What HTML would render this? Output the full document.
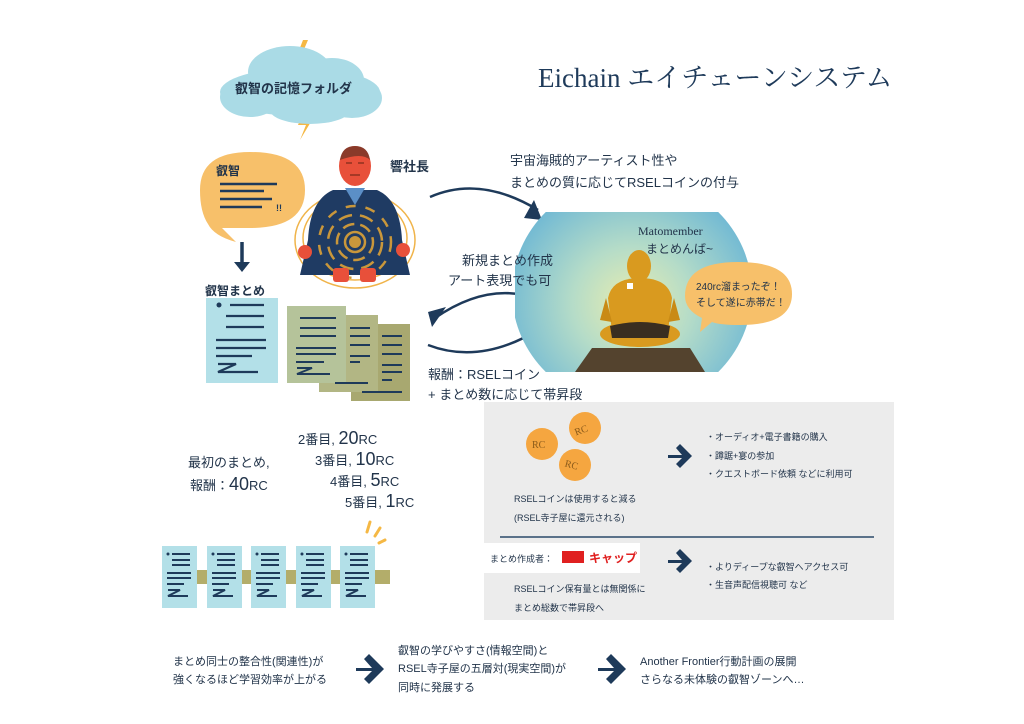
<!DOCTYPE html>
<html><head><meta charset="utf-8"><style>
html,body{margin:0;padding:0;background:#fff;}
#c{position:relative;width:1024px;height:724px;overflow:hidden;font-family:"Liberation Sans","Noto Sans CJK JP",sans-serif;color:#22344a;}
.t{position:absolute;white-space:nowrap;font-weight:bold;}
svg{position:absolute;left:0;top:0;}
</style></head><body><div id="c">
<svg width="1024" height="724" viewBox="0 0 1024 724">
<defs>
<radialGradient id="g" cx="0.5" cy="0.55" r="0.55"><stop offset="0" stop-color="#e8edb0"/><stop offset="0.45" stop-color="#b5dcc8"/><stop offset="1" stop-color="#6fb8d4"/></radialGradient>
<clipPath id="cl"><rect x="515" y="212" width="240" height="160"/></clipPath>
<g id="doc"><rect width="35" height="62" fill="#b3e0e8"/><g stroke="#1e3a5a" stroke-width="2"><line x1="10" y1="8" x2="28" y2="8"/><line x1="10" y1="14" x2="28" y2="14"/><line x1="10" y1="19" x2="28" y2="19"/><line x1="5" y1="27" x2="29" y2="27"/><line x1="5" y1="32" x2="29" y2="32"/><line x1="5" y1="38" x2="22" y2="38"/><path d="M6 44 H18 L6 50 H26" fill="none"/></g><circle cx="6" cy="8" r="1.5" fill="#1e3a5a"/></g>
</defs>
<path d="M303 40 L296 58 L304 58 L297 72 L310 54 L302 54 L308 40Z" fill="#f5b844"/>
<path d="M305 108 L298 125 L306 125 L300 140 L312 120 L304 120 L310 108Z" fill="#f5b844"/>
<g fill="#aadbe6"><ellipse cx="300" cy="92" rx="80" ry="24"/><ellipse cx="290" cy="72" rx="42" ry="26"/><ellipse cx="332" cy="80" rx="32" ry="22"/><ellipse cx="352" cy="98" rx="30" ry="20"/><ellipse cx="250" cy="97" rx="30" ry="20"/><ellipse cx="310" cy="110" rx="40" ry="14"/></g>
<path d="M200 190 Q200 152 250 152 Q305 152 305 190 Q305 228 250 228 L222 228 Q230 236 236 242 Q214 236 208 224 Q200 212 200 190Z" fill="#f7c06a"/>
<g stroke="#1e3a5a" stroke-width="2.5"><line x1="220" y1="184" x2="277" y2="184"/><line x1="220" y1="191" x2="264" y2="191"/><line x1="220" y1="199" x2="272" y2="199"/><line x1="220" y1="207" x2="262" y2="207"/></g>
<text x="276" y="211" font-size="9" font-weight="bold" fill="#1e3a5a" font-family="Liberation Sans">!!</text>
<path d="M242 242 V268" stroke="#1e3a5a" stroke-width="3.5"/><path d="M234 262 L242 272 L250 262Z" fill="#1e3a5a"/>
<rect x="206" y="298" width="72" height="85" fill="#b3e0e8"/>
<g stroke="#1e3a5a" stroke-width="2.2"><line x1="230" y1="305" x2="264" y2="305"/><line x1="226" y1="316" x2="264" y2="316"/><line x1="226" y1="327" x2="264" y2="327"/><line x1="216" y1="340" x2="266" y2="340"/><line x1="216" y1="348" x2="266" y2="348"/><line x1="216" y1="356" x2="252" y2="356"/><path d="M218 364 H236 L218 372 H258" fill="none"/></g><circle cx="219" cy="305" r="2.5" fill="#1e3a5a"/>
<rect x="351" y="324" width="59" height="77" fill="#a8a870"/>
<rect x="319" y="315" width="59" height="77" fill="#b2b684"/>
<rect x="287" y="306" width="59" height="77" fill="#b5c39a"/>
<g stroke="#1e3a5a" stroke-width="2"><line x1="300" y1="318" x2="336" y2="318"/><line x1="300" y1="328" x2="336" y2="328"/><line x1="300" y1="336" x2="336" y2="336"/><line x1="296" y1="348" x2="336" y2="348"/><line x1="296" y1="354" x2="336" y2="354"/><line x1="296" y1="362" x2="324" y2="362"/><path d="M297 368 H312 L297 374 H330" fill="none"/>
<line x1="350" y1="328" x2="370" y2="328"/><line x1="350" y1="336" x2="370" y2="336"/><line x1="350" y1="345" x2="370" y2="345"/><line x1="350" y1="356" x2="370" y2="356"/><line x1="350" y1="362" x2="360" y2="362"/><line x1="335" y1="383" x2="368" y2="383"/>
<line x1="382" y1="336" x2="402" y2="336"/><line x1="382" y1="345" x2="402" y2="345"/><line x1="382" y1="354" x2="402" y2="354"/><line x1="382" y1="365" x2="402" y2="365"/><line x1="382" y1="372" x2="402" y2="372"/><line x1="382" y1="380" x2="392" y2="380"/><line x1="362" y1="392" x2="402" y2="392"/></g>
<g fill="none" stroke="#f0b44a" stroke-width="1.5"><ellipse cx="355" cy="240" rx="60" ry="48"/><ellipse cx="355" cy="238" rx="52" ry="42"/></g>
<path d="M333 190 L377 190 Q400 200 402 240 L410 275 L300 275 L308 240 Q310 200 333 190Z" fill="#1f3b63"/>
<path d="M345 188 L365 188 L355 205Z" fill="#5b8fc7"/>
<g fill="none" stroke="#c9973b" stroke-width="2.5"><circle cx="355" cy="242" r="10"/><circle cx="355" cy="242" r="18" stroke-dasharray="12 6"/><circle cx="355" cy="242" r="27" stroke-dasharray="14 8"/><circle cx="355" cy="242" r="36" stroke-dasharray="10 10"/></g>
<circle cx="355" cy="242" r="6" fill="#c9973b"/>
<ellipse cx="355" cy="166" rx="16" ry="20" fill="#e8503a"/><path d="M340 160 Q342 146 355 146 Q368 146 370 160 Q362 152 340 160Z" fill="#8a3a2a"/>
<g stroke="#7a2a1a" stroke-width="1.2"><line x1="346" y1="163" x2="352" y2="163"/><line x1="358" y1="163" x2="364" y2="163"/><line x1="350" y1="175" x2="360" y2="175"/></g>
<g fill="#e8503a"><circle cx="305" cy="252" r="7"/><circle cx="403" cy="250" r="7"/><rect x="333" y="268" width="16" height="14" rx="3"/><rect x="360" y="268" width="16" height="14" rx="3"/></g>
<g fill="none" stroke="#1e3a5a" stroke-width="2.5"><path d="M430 197 Q480 175 538 210"/><path d="M540 300 Q490 280 435 318"/><path d="M428 345 Q480 365 538 330"/></g>
<g fill="#1e3a5a"><path d="M534 200 L542 220 L524 218Z"/><path d="M428 312 L446 307 L432 327Z"/><path d="M540 322 L542 343 L526 333Z"/></g>
<ellipse cx="632" cy="292" rx="120" ry="115" fill="url(#g)" clip-path="url(#cl)"/>
<path d="M575 372 L592 348 L690 348 L705 372Z" fill="#54432e"/>
<ellipse cx="640" cy="334" rx="40" ry="13" fill="#d99a1f"/>
<path d="M608 298 Q612 278 640 278 Q668 278 672 298 L668 332 L612 332Z" fill="#d99a1f"/>
<path d="M606 298 L600 320 L612 322Z M674 298 L680 320 L668 322Z" fill="#c98a15"/>
<ellipse cx="639" cy="266" rx="12" ry="16" fill="#d99a1f"/>
<path d="M610 326 Q640 318 670 326 L668 338 L612 338Z" fill="#3a2e20"/>
<rect x="627" y="283" width="6" height="6" fill="#fff"/>
<path d="M685 296 Q685 262 738 262 Q792 262 792 294 Q792 325 740 325 Q720 325 712 322 L700 332 L702 318 Q685 310 685 296Z" fill="#f7c06a"/>
<rect x="484" y="402" width="410" height="218" fill="#ececec"/>
<line x1="500" y1="537" x2="874" y2="537" stroke="#2b4a6a" stroke-width="1.5"/>
<rect x="484" y="543" width="156" height="30" fill="#fff"/>
<rect x="562" y="551" width="22" height="12" fill="#e02020"/>
<g font-family="Liberation Serif" font-size="10" fill="#8a5a1a">
<circle cx="542" cy="444" r="16" fill="#f5a640"/><text x="532" y="448">RC</text>
<circle cx="585" cy="428" r="16" fill="#f5a640"/><text x="574" y="432" transform="rotate(-20 585 428)">RC</text>
<circle cx="575" cy="465" r="16" fill="#f5a640"/><text x="565" y="469" transform="rotate(15 575 465)">RC</text></g>
<g fill="#1e3a5a"><path d="M668 455 H682 L676 448 L680 444 L692 456 L680 468 L676 464 L682 458 H668Z"/><path d="M668 560 H682 L676 553 L680 549 L692 561 L680 573 L676 569 L682 563 H668Z"/>
<path d="M356 668 H372 L364 659 L369 654 L384 669 L369 684 L364 679 L372 671 H356Z"/><path d="M598 668 H614 L606 659 L611 654 L626 669 L611 684 L606 679 L614 671 H598Z"/></g>
<rect x="190" y="570" width="200" height="14" fill="#b3ad6a"/>
<use href="#doc" x="162" y="546"/><use href="#doc" x="207" y="546"/><use href="#doc" x="251" y="546"/><use href="#doc" x="296" y="546"/><use href="#doc" x="340" y="546"/>
<g stroke="#f5b844" stroke-width="3" stroke-linecap="round"><line x1="367" y1="532" x2="370" y2="522"/><line x1="375" y1="536" x2="380" y2="528"/><line x1="379" y1="543" x2="385" y2="540"/></g>
</svg>
<div class="t" style="left:538px;top:56px;font-size:27px;font-family:'Liberation Serif','Noto Serif CJK SC',serif;font-weight:normal;color:#1e3a5a">Eichain エイチェーンシステム</div>
<div class="t" style="left:235px;top:78px;font-size:13px">叡智の記憶フォルダ</div>
<div class="t" style="left:216px;top:162px;font-size:12px">叡智</div>
<div class="t" style="left:390px;top:156px;font-size:13px">響社長</div>
<div class="t" style="left:205px;top:282px;font-size:12px">叡智まとめ</div>
<div class="t" style="left:510px;top:150px;font-size:13px;font-weight:normal">宇宙海賊的アーティスト性や</div>
<div class="t" style="left:510px;top:172px;font-size:13px;font-weight:normal">まとめの質に応じてRSELコインの付与</div>
<div class="t" style="left:462px;top:250px;font-size:13px;font-weight:normal">新規まとめ作成</div>
<div class="t" style="left:448px;top:270px;font-size:13px;font-weight:normal">アート表現でも可</div>
<div class="t" style="left:428px;top:364px;font-size:13px;font-weight:normal">報酬：RSELコイン</div>
<div class="t" style="left:428px;top:384px;font-size:13px;font-weight:normal">+ まとめ数に応じて帯昇段</div>
<div class="t" style="left:638px;top:224px;font-size:12px;font-family:'Liberation Serif','Noto Serif CJK SC',serif;font-weight:normal">Matomember</div>
<div class="t" style="left:646px;top:240px;font-size:12px;font-weight:normal">まとめんば~</div>
<div class="t" style="left:696px;top:278px;font-size:10px;font-weight:normal">240rc溜まったぞ！</div>
<div class="t" style="left:696px;top:294px;font-size:10px;font-weight:normal">そして遂に赤帯だ！</div>
<div class="t" style="left:188px;top:452px;font-size:13px;font-weight:normal">最初のまとめ,</div>
<div class="t" style="left:190px;top:474px;font-size:13px;font-weight:normal">報酬：<span style="font-size:18px">40</span>RC</div>
<div class="t" style="left:298px;top:428px;font-size:13px;font-weight:normal">2番目, <span style="font-size:18px">20</span>RC</div>
<div class="t" style="left:315px;top:449px;font-size:13px;font-weight:normal">3番目, <span style="font-size:18px">10</span>RC</div>
<div class="t" style="left:330px;top:470px;font-size:13px;font-weight:normal">4番目, <span style="font-size:18px">5</span>RC</div>
<div class="t" style="left:345px;top:491px;font-size:13px;font-weight:normal">5番目, <span style="font-size:18px">1</span>RC</div>
<div class="t" style="left:514px;top:492px;font-size:9px;font-weight:normal">RSELコインは使用すると減る</div>
<div class="t" style="left:514px;top:511px;font-size:9px;font-weight:normal">(RSEL寺子屋に還元される)</div>
<div class="t" style="left:706px;top:430px;font-size:9px;font-weight:normal">・オーディオ+電子書籍の購入</div>
<div class="t" style="left:706px;top:449px;font-size:9px;font-weight:normal">・蹲踞+宴の参加</div>
<div class="t" style="left:706px;top:467px;font-size:9px;font-weight:normal">・クエストボード依頼 などに利用可</div>
<div class="t" style="left:490px;top:552px;font-size:9px;font-weight:normal">まとめ作成者：</div>
<div class="t" style="left:589px;top:549px;font-size:12px;color:#e02020">キャップ</div>
<div class="t" style="left:514px;top:582px;font-size:9px;font-weight:normal">RSELコイン保有量とは無関係に</div>
<div class="t" style="left:514px;top:601px;font-size:9px;font-weight:normal">まとめ総数で帯昇段へ</div>
<div class="t" style="left:706px;top:560px;font-size:9px;font-weight:normal">・よりディープな叡智へアクセス可</div>
<div class="t" style="left:706px;top:578px;font-size:9px;font-weight:normal">・生音声配信視聴可 など</div>
<div class="t" style="left:173px;top:653px;font-size:11px;font-weight:normal">まとめ同士の整合性(関連性)が</div>
<div class="t" style="left:173px;top:671px;font-size:11px;font-weight:normal">強くなるほど学習効率が上がる</div>
<div class="t" style="left:398px;top:642px;font-size:11px;font-weight:normal">叡智の学びやすさ(情報空間)と</div>
<div class="t" style="left:398px;top:660px;font-size:11px;font-weight:normal">RSEL寺子屋の五層対(現実空間)が</div>
<div class="t" style="left:398px;top:679px;font-size:11px;font-weight:normal">同時に発展する</div>
<div class="t" style="left:640px;top:653px;font-size:11px;font-weight:normal">Another Frontier行動計画の展開</div>
<div class="t" style="left:640px;top:671px;font-size:11px;font-weight:normal">さらなる未体験の叡智ゾーンへ…</div>
</div></body></html>
